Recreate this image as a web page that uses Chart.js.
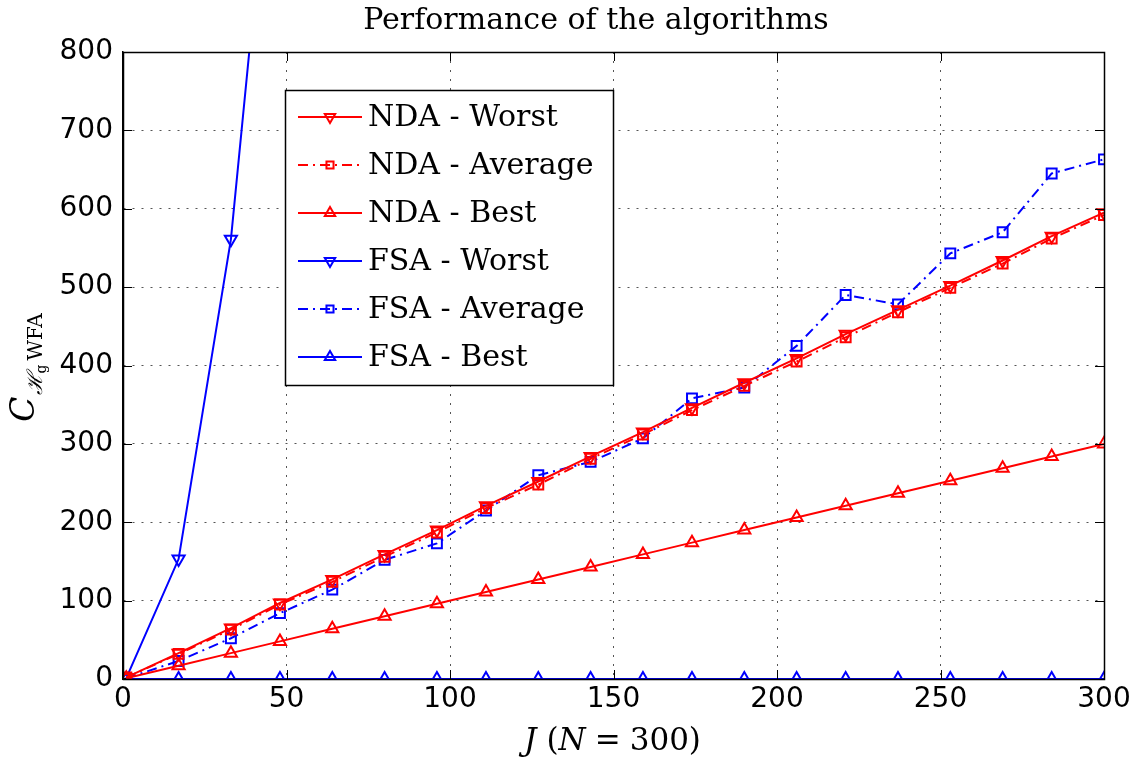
<!DOCTYPE html>
<html>
<head>
<meta charset="utf-8">
<script src="https://cdn.jsdelivr.net/npm/chart.js@4.4.1/dist/chart.umd.min.js"></script>
<style>
  html, body { margin: 0; padding: 0; background: #fff; }
</style>
</head>
<body>
<canvas id="myChart" width="1142" height="758"></canvas>
<script>
// valores
const J = [1, 17, 33, 48, 64, 80, 96, 111, 127, 143, 159, 174, 190, 206, 221, 237, 253, 269, 284, 300];
const ndaWorst = [2, 33, 65, 97, 127, 159, 190, 221, 252, 284, 315, 346, 378, 409, 440, 471, 502, 534, 565, 595];
const ndaAverage = [2, 32, 63, 95, 124, 156, 187, 218, 248, 281, 312, 343, 374, 405, 436, 468, 499, 530, 562, 592];
const ndaBest = [1, 17, 33, 48, 64, 80, 96, 111, 127, 143, 159, 174, 190, 206, 221, 237, 253, 269, 284, 300];
const fsaWorst = [1, 153, 561, 1200, null, null, null, null, null, null, null, null, null, null, null, null, null, null, null, null];
const fsaAverage = [1, 23, 52, 84, 114, 152, 173, 215, 260, 277, 307, 358, 372, 425, 490, 478, 543, 570, 645, 663];
const fsaBest = [0, 0, 0, 0, 0, 0, 0, 0, 0, 0, 0, 0, 0, 0, 0, 0, 0, 0, 0, 0];

const xTicks = [0, 50, 100, 150, 200, 250, 300];
const yTicks = [0, 100, 200, 300, 400, 500, 600, 700, 800];

const RED = "#ff0000";
const BLUE = "#0000ff";
const SERIF = "'DejaVu Serif', serif";

function pts(ys) {
  return J.map((x, i) => ({ x: x, y: ys[i] }));
}

function serie(label, ys, color, style, rot, dash, radius) {
  return {
    label: label,
    data: pts(ys),
    borderColor: color,
    backgroundColor: "rgba(0,0,0,0)",
    borderWidth: 2,
    borderDash: dash,
    pointStyle: style,
    rotation: rot,
    pointRadius: radius,
    pointBorderWidth: 2,
    pointBorderColor: color,
    pointBackgroundColor: "rgba(0,0,0,0)",
    tension: 0,
    spanGaps: false,
  };
}

// desenha textos com estilos misturados (italico / normal / indice)
function drawPieces(ctx, pieces, cx, baseY) {
  let total = 0;
  pieces.forEach((p) => {
    ctx.font = p.font;
    p.w = ctx.measureText(p.t).width;
    total += p.w + (p.gap || 0);
  });
  let x = cx - total / 2;
  pieces.forEach((p) => {
    ctx.font = p.font;
    ctx.fillText(p.t, x, baseY + (p.dy || 0));
    x += p.w + (p.gap || 0);
  });
}

const moldura = {
  id: "moldura",
  afterDraw(chart) {
    const { ctx, chartArea: a, scales } = chart;
    const sx = scales.x;
    const sy = scales.y;
    ctx.save();

    // ticks para dentro
    ctx.strokeStyle = "#000";
    ctx.lineWidth = 1;
    ctx.setLineDash([]);
    ctx.beginPath();
    sx.ticks.forEach((t) => {
      const px = Math.round(sx.getPixelForValue(t.value)) + 0.5;
      ctx.moveTo(px, a.bottom); ctx.lineTo(px, a.bottom - 9);
      ctx.moveTo(px, a.top); ctx.lineTo(px, a.top + 9);
    });
    sy.ticks.forEach((t) => {
      const py = Math.round(sy.getPixelForValue(t.value)) + 0.5;
      ctx.moveTo(a.left, py); ctx.lineTo(a.left + 9, py);
      ctx.moveTo(a.right, py); ctx.lineTo(a.right - 9, py);
    });
    ctx.stroke();
    ctx.lineWidth = 1.5;
    ctx.strokeRect(Math.round(a.left) + 0.5, Math.round(a.top) + 0.5, Math.round(a.right - a.left), Math.round(a.bottom - a.top));

    // titulo
    ctx.fillStyle = "#000";
    ctx.textBaseline = "alphabetic";
    ctx.textAlign = "left";
    drawPieces(ctx, [{ t: "Performance of the algorithms", font: "30px " + SERIF }], 596, 29);

    // titulo do eixo x
    drawPieces(ctx, [
      { t: "J", font: "italic 31px " + SERIF, gap: 10 },
      { t: "(", font: "31px " + SERIF },
      { t: "N", font: "italic 31px " + SERIF, gap: 9 },
      { t: "=", font: "31px " + SERIF, gap: 9 },
      { t: "300)", font: "31px " + SERIF },
    ], (a.left + a.right) / 2 - 1, 750);

    // titulo do eixo y
    ctx.save();
    ctx.translate(34, (a.top + a.bottom) / 2 + 2);
    ctx.rotate(-Math.PI / 2);
    drawPieces(ctx, [
      { t: "C", font: "italic 33px " + SERIF, gap: 1 },
      { t: "\u210B", font: "italic 21px " + SERIF, dy: 8 },
      { t: "g", font: "14px " + SERIF, dy: 12, gap: 4 },
      { t: "WFA", font: "20px " + SERIF, dy: 8 },
    ], 0, 0);
    ctx.restore();

    // legenda dentro da area
    const box = { x: 285, y: 90, w: 328, h: 295 };
    ctx.fillStyle = "#fff";
    ctx.fillRect(box.x, box.y, box.w, box.h);
    ctx.strokeStyle = "#000";
    ctx.lineWidth = 1.5;
    ctx.strokeRect(box.x + 0.5, box.y + 0.5, box.w, box.h);
    chart.data.datasets.forEach((ds, i) => {
      const ry = box.y + 27 + i * 48;
      ctx.strokeStyle = ds.borderColor;
      ctx.lineWidth = 2;
      ctx.setLineDash(ds.borderDash || []);
      ctx.beginPath();
      ctx.moveTo(298, ry);
      ctx.lineTo(362, ry);
      ctx.stroke();
      ctx.setLineDash([]);
      ctx.fillStyle = "rgba(0,0,0,0)";
      Chart.helpers.drawPoint(ctx, {
        pointStyle: ds.pointStyle,
        rotation: ds.rotation,
        radius: ds.pointStyle === "rect" ? 5 : 6,
        borderWidth: 2,
      }, 330, ry);
      ctx.fillStyle = "#000";
      ctx.font = "30px " + SERIF;
      ctx.textBaseline = "middle";
      ctx.fillText(ds.label, 368, ry + 1);
    });
    ctx.restore();
  },
};

const ctx = document.getElementById("myChart");

new Chart(ctx, {
  type: "line",
  data: {
    datasets: [
      serie("NDA - Worst", ndaWorst, RED, "triangle", 180, [], 7),
      serie("NDA - Average", ndaAverage, RED, "rect", 0, [10, 5, 2, 5], 7),
      serie("NDA - Best", ndaBest, RED, "triangle", 0, [], 7),
      serie("FSA - Worst", fsaWorst, BLUE, "triangle", 180, [], 7),
      serie("FSA - Average", fsaAverage, BLUE, "rect", 0, [10, 5, 2, 5], 7),
      serie("FSA - Best", fsaBest, BLUE, "triangle", 0, [], 7),
    ],
  },
  options: {
    responsive: false,
    animation: false,
    devicePixelRatio: 1,
    layout: { padding: { top: 52, right: 38, left: 0, bottom: 0 } },
    plugins: {
      legend: { display: false },
      title: { display: false },
      tooltip: { enabled: false },
    },
    scales: {
      x: {
        type: "linear",
        min: 0,
        max: 300,
        afterBuildTicks: (s) => { s.ticks = xTicks.map((v) => ({ value: v })); },
        afterFit: (s) => { s.height = 79; },
        ticks: { font: { family: "'DejaVu Sans'", size: 28 }, color: "#000", padding: 4, maxRotation: 0 },
        grid: { color: "#555", lineWidth: 1, drawTicks: false },
        border: { display: true, color: "#000", width: 1.5, dash: [2, 7] },
      },
      y: {
        type: "linear",
        min: 0,
        max: 800,
        afterBuildTicks: (s) => { s.ticks = yTicks.map((v) => ({ value: v })); },
        afterFit: (s) => { s.width = 123; },
        ticks: { font: { family: "'DejaVu Sans'", size: 28 }, color: "#000", padding: 10 },
        grid: { color: "#555", lineWidth: 1, drawTicks: false },
        border: { display: true, color: "#000", width: 1.5, dash: [2, 7] },
      },
    },
  },
  plugins: [moldura],
});
</script>
</body>
</html>
